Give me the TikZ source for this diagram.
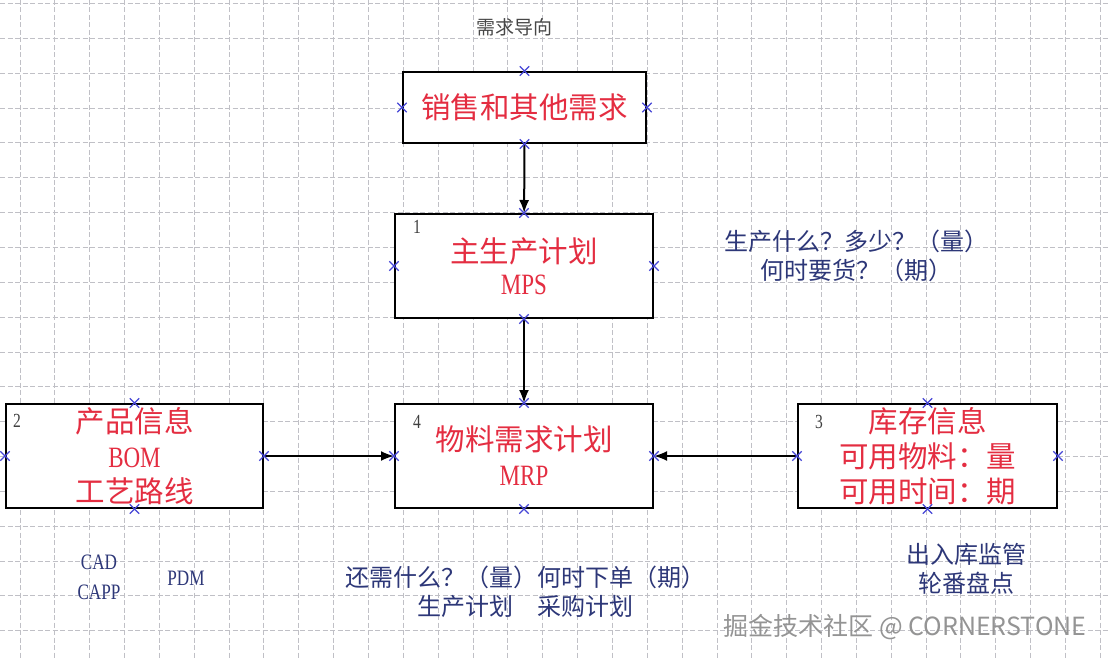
\documentclass[tikz,border=0pt]{standalone}
\usepackage{fontspec}
\setmainfont{Liberation Serif}
\newfontfamily\cjk{Noto Sans CJK SC}
\newfontfamily\narrowserif[FakeStretch=0.78]{Liberation Serif}
\usetikzlibrary{positioning,calc,shapes.misc,arrows.meta}
\definecolor{boxred}{RGB}{228,45,65}
\definecolor{notenavy}{RGB}{45,55,120}
\definecolor{markblue}{RGB}{70,70,215}
\definecolor{gridgray}{RGB}{192,192,198}
\tikzset{
gridline/.style={draw=gridgray,line width=1pt,dash pattern=on 5pt off 2.5pt},
planbox/.style={draw=black,line width=2pt,fill=white,minimum width=258pt,minimum height=104pt,
inner sep=0pt,align=center,text=boxred,font=\cjk\fontsize{29.5}{35}\selectfont},
numlabel/.style={font=\narrowserif\fontsize{20}{20}\selectfont,text=black!75,inner sep=0pt},
note/.style={font=\cjk\fontsize{24}{29}\selectfont,text=notenavy,align=center,inner sep=0pt},
latinnote/.style={font=\narrowserif\fontsize{22}{30}\selectfont,text=notenavy,align=center,inner sep=0pt},
xmark/.style={cross out,draw=markblue,line width=1.3pt,minimum size=8pt,inner sep=0pt},
flowarrow/.style={-{Latex[length=13pt,width=10pt]},line width=2pt,black}
}

\begin{document}
\begin{tikzpicture}[x=1pt,y=-1pt]
\fill[white] (0,0) rectangle (1108,660);
\useasboundingbox (0,0) rectangle (1108,660);
% background grid
\foreach \k in {0,...,31} \draw[gridline] ({20+34.85*\k},0) -- ({20+34.85*\k},660);
\foreach \k in {0,...,18} \draw[gridline] (0,{3.5+34.85*\k}) -- (1108,{3.5+34.85*\k});

\node[font=\cjk\fontsize{19}{19}\selectfont,text=black!72] (head) at (514,27) {需求导向};

\node[planbox,minimum width=243pt,minimum height=71pt] (sales) at (524.5,107.5) {销售和其他需求};
\node[planbox,font=\cjk\fontsize{29.5}{32}\selectfont] (mps) at (524,266) {主生产计划\\{\narrowserif MPS}};
\node[planbox,minimum width=257pt] (bom) at (134.5,456) {产品信息\\{\narrowserif BOM}\\工艺路线};
\node[planbox] (mrp) at (524,456) {物料需求计划\\{\narrowserif MRP}};
\node[planbox,minimum width=259pt] (inv) at (927.5,456) {库存信息\\可用物料：量\\可用时间：期};

\node[numlabel] (n1) at ($(mps.north west)+(23,14)$) {1};
\node[numlabel] (n2) at ($(bom.north west)+(12,18)$) {2};
\node[numlabel] (n3) at ($(inv.north west)+(22,19)$) {3};
\node[numlabel] (n4) at ($(mrp.north west)+(23,19)$) {4};

\draw[flowarrow] (sales) -- (mps);
\draw[flowarrow] (mps) -- (mrp);
\draw[flowarrow] (bom) -- (mrp);
\draw[flowarrow] (inv) -- (mrp);

\foreach \b in {sales,mps,bom,mrp,inv}{
\foreach \a in {north,south,east,west}{
\node[xmark] (\b-\a) at (\b.\a) {};
}}

\node[note] (askmps) at (856,256) {生产什么？多少？（量）\\何时要货？（期）};
\node[latinnote] (cad) at (99,577) {CAD\\CAPP};
\node[latinnote] (pdm) at (186,578) {PDM};
\node[note] (askmrp) at (525,592) {还需什么？（量）何时下单（期）\\生产计划\quad 采购计划};
\node[note] (stock) at (966,569) {出入库监管\\轮番盘点};

\node[font=\cjk\fontsize{25}{25}\selectfont,text=black!42] (mark) at (905,627) {掘金技术社区 @ CORNERSTONE};
\end{tikzpicture}
\end{document}
